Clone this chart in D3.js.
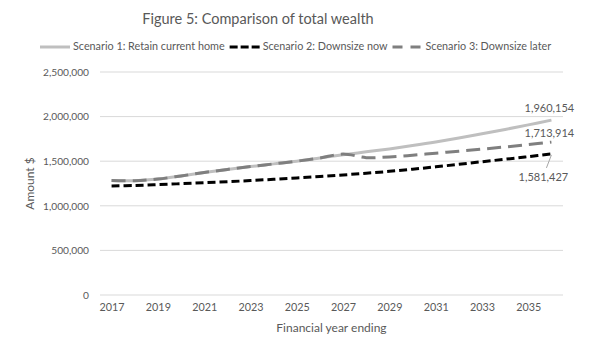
<!DOCTYPE html>
<html><head><meta charset="utf-8">
<script src="https://cdn.jsdelivr.net/npm/d3@7"></script>
<style>body{margin:0;background:#fff}svg{display:block}text{font-family:Lato,"Open Sans",sans-serif;fill:#595959}</style>
</head><body>
<svg id="c" width="600" height="347"></svg>
<script>
const years = d3.range(2017, 2037);
const tickYears = [2017,2019,2021,2023,2025,2027,2029,2031,2033,2035];
const yTicks = [0,500000,1000000,1500000,2000000,2500000];
const seriesNames = ["Scenario 1: Retain current home","Scenario 2: Downsize now","Scenario 3: Downsize later"];
const s1 = [1283000,1281000,1300000,1335000,1373000,1408000,1440000,1470000,1500000,1536000,1572000,1605000,1638000,1675000,1715000,1760000,1808000,1856000,1907000,1960154];
const s2 = [1222000,1228000,1237000,1248000,1259000,1270000,1283000,1297000,1312000,1328000,1346000,1365000,1386000,1410000,1437000,1465000,1494000,1522000,1551000,1581427];
const s3 = [1283000,1281000,1300000,1335000,1373000,1408000,1440000,1470000,1500000,1536000,1580000,1540000,1548000,1567000,1590000,1612000,1635000,1660000,1686000,1713914];

const svg = d3.select("#c");
const L=100,R=563,T=72,B=295;
const x = d3.scalePoint().domain(years).range([L,R]).padding(0.5);
const y = d3.scaleLinear().domain([0,2500000]).range([B,T]);
const fmt = d3.format(",");

svg.append("g").selectAll("line").data(yTicks).join("line")
  .attr("x1",L).attr("x2",R).attr("y1",d=>y(d)).attr("y2",d=>y(d))
  .attr("stroke","#d9d9d9").attr("stroke-width",1);

const ya = svg.append("g").attr("transform",`translate(${L-11},0)`)
  .call(d3.axisLeft(y).tickValues(yTicks).tickFormat(fmt).tickSize(0).tickPadding(0));
ya.select(".domain").remove();
ya.selectAll("text").style("font-size","10.2px").attr("fill","#595959");

const xa = svg.append("g").attr("transform",`translate(0,${B+8})`)
  .call(d3.axisBottom(x).tickValues(tickYears).tickSize(0).tickPadding(0));
xa.select(".domain").remove();
xa.selectAll("text").style("font-size","10.8px").attr("fill","#595959");

svg.append("text").attr("transform",`translate(31,${(T+B)/2}) rotate(-90)`)
  .attr("text-anchor","middle").attr("dominant-baseline","middle").style("font-size","12px").text("Amount $");
svg.append("text").attr("x",(L+R)/2).attr("y",332).attr("text-anchor","middle")
  .style("font-size","12px").text("Financial year ending");

svg.append("text").attr("x",258).attr("y",24).attr("text-anchor","middle")
  .style("font-size","14.5px").text("Figure 5: Comparison of total wealth");

const styles = [
  {data:s1,color:"#bfbfbf",dash:null},
  {data:s2,color:"#000000",dash:"8,4"},
  {data:s3,color:"#7f7f7f",dash:"14,7"}
];
const line = d3.line().x((d,i)=>x(years[i])).y(d=>y(d)).curve(d3.curveCatmullRom.alpha(0.5));
styles.forEach(s=>{
  svg.append("path").attr("d",line(s.data)).attr("fill","none")
    .attr("stroke",s.color).attr("stroke-width",3).attr("stroke-dasharray",s.dash);
});

const last = years.length-1;
const xe = x(years[last]);
svg.append("text").attr("x",xe-2).attr("y",y(s1[last])-8).attr("text-anchor","middle").style("font-size","11px").text(fmt(s1[last]));
svg.append("text").attr("x",xe-2).attr("y",y(s3[last])-5).attr("text-anchor","middle").style("font-size","11px").text(fmt(s3[last]));
svg.append("line").attr("x1",xe).attr("y1",y(s2[last])+1).attr("x2",xe-5).attr("y2",y(s2[last])+14).attr("stroke","#a6a6a6").attr("stroke-width",1);
svg.append("text").attr("x",xe-8).attr("y",y(s2[last])+27).attr("text-anchor","middle").style("font-size","11px").text(fmt(s2[last]));

const lg = svg.append("g");
let lx = 40; const ly = 47;
styles.forEach((s,i)=>{
  lg.append("line").attr("x1",lx).attr("x2",lx+30).attr("y1",ly).attr("y2",ly)
    .attr("stroke",s.color).attr("stroke-width",3)
    .attr("stroke-dasharray", i==1?"8,3":(i==2?"10,8":null));
  const t = lg.append("text").attr("x",lx+33).attr("y",ly).attr("dominant-baseline","middle")
    .style("font-size","10.8px").text(seriesNames[i]);
  lx += 33 + t.node().getComputedTextLength() + 5;
});
</script>
</body></html>
